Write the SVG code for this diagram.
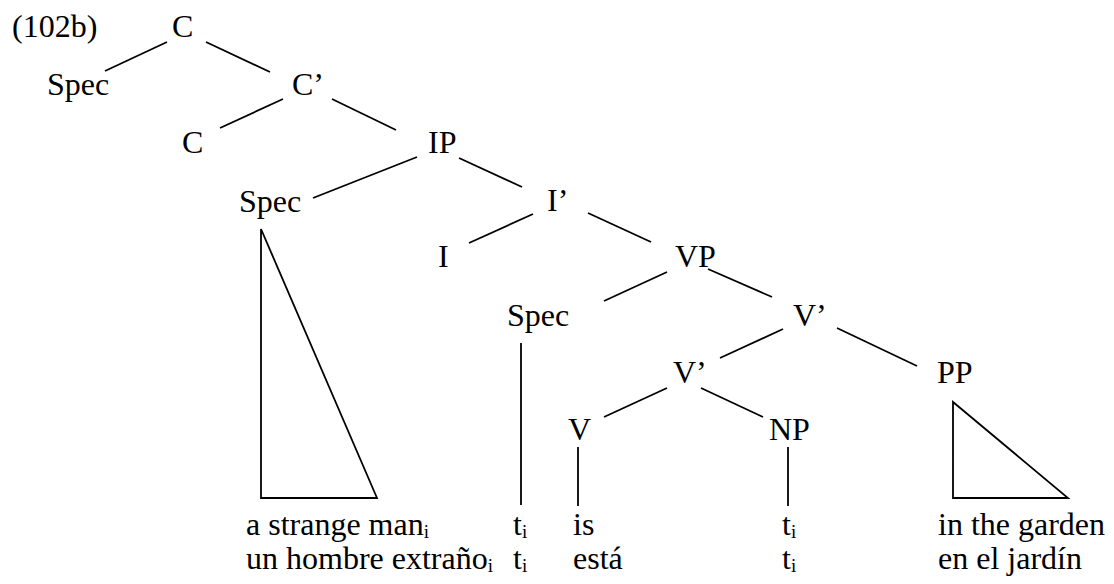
<svg xmlns="http://www.w3.org/2000/svg" width="1114" height="584" viewBox="0 0 1114 584">
<style>
text{font-family:"Liberation Serif","DejaVu Serif",serif;font-size:32px;fill:#000}
.sub{font-size:19px}
line,polygon{stroke:#000;stroke-width:1.8;fill:none}
</style>
<rect width="1114" height="584" fill="#fff"/>
<text x="12" y="37" font-family="Liberation Serif, serif">(102b)</text>
<g id="C1"><text x="172" y="37">C</text></g>
<g id="Spec1"><text x="47" y="95">Spec</text></g>
<g id="Cbar"><text x="292" y="95">C’</text></g>
<g id="C2"><text x="182" y="153">C</text></g>
<g id="IP"><text x="428" y="153">IP</text></g>
<g id="Spec2"><text x="239" y="212">Spec</text>
<polygon points="261,229 261,498 377,498"/></g>
<g id="Ibar"><text x="547" y="211">I’</text></g>
<g id="I"><text x="438" y="267">I</text></g>
<g id="VP"><text x="675" y="267">VP</text></g>
<g id="Spec3"><text x="507" y="326">Spec</text></g>
<g id="Vbar1"><text x="793" y="326">V’</text></g>
<g id="Vbar2"><text x="673" y="383">V’</text></g>
<g id="PP"><text x="937" y="383">PP</text>
<polygon points="953,402 953,498 1068,498"/></g>
<g id="V"><text x="568" y="440">V</text></g>
<g id="NP"><text x="769" y="440">NP</text></g>
<g id="connectors">
<line x1="167" y1="42" x2="105" y2="71"/>
<line x1="206" y1="42" x2="270" y2="72"/>
<line x1="283" y1="99" x2="220" y2="128"/>
<line x1="332" y1="99" x2="396" y2="130"/>
<line x1="417" y1="157" x2="313" y2="198"/>
<line x1="459" y1="158" x2="522" y2="187"/>
<line x1="533" y1="214" x2="469" y2="243"/>
<line x1="588" y1="213" x2="651" y2="242"/>
<line x1="667" y1="272" x2="604" y2="301"/>
<line x1="708" y1="269" x2="772" y2="297"/>
<line x1="783" y1="329" x2="720" y2="358"/>
<line x1="837" y1="328" x2="917" y2="366"/>
<line x1="667" y1="388" x2="604" y2="417"/>
<line x1="701" y1="388" x2="763" y2="417"/>
<line x1="521" y1="343" x2="521" y2="505"/>
<line x1="578" y1="447" x2="578" y2="506"/>
<line x1="788" y1="447" x2="788" y2="506"/>
</g>
<g id="leaves">
<text x="246" y="535">a strange man<tspan class="sub" dy="3">i</tspan></text>
<text x="246" y="569">un hombre extraño<tspan class="sub" dy="3">i</tspan></text>
<text x="513" y="535">t<tspan class="sub" dy="3">i</tspan></text>
<text x="513" y="569">t<tspan class="sub" dy="3">i</tspan></text>
<text x="573" y="535">is</text>
<text x="573" y="569">está</text>
<text x="782" y="535">t<tspan class="sub" dy="3">i</tspan></text>
<text x="782" y="569">t<tspan class="sub" dy="3">i</tspan></text>
<text x="938" y="535">in the garden</text>
<text x="938" y="569">en el jardín</text>
</g>
</svg>
